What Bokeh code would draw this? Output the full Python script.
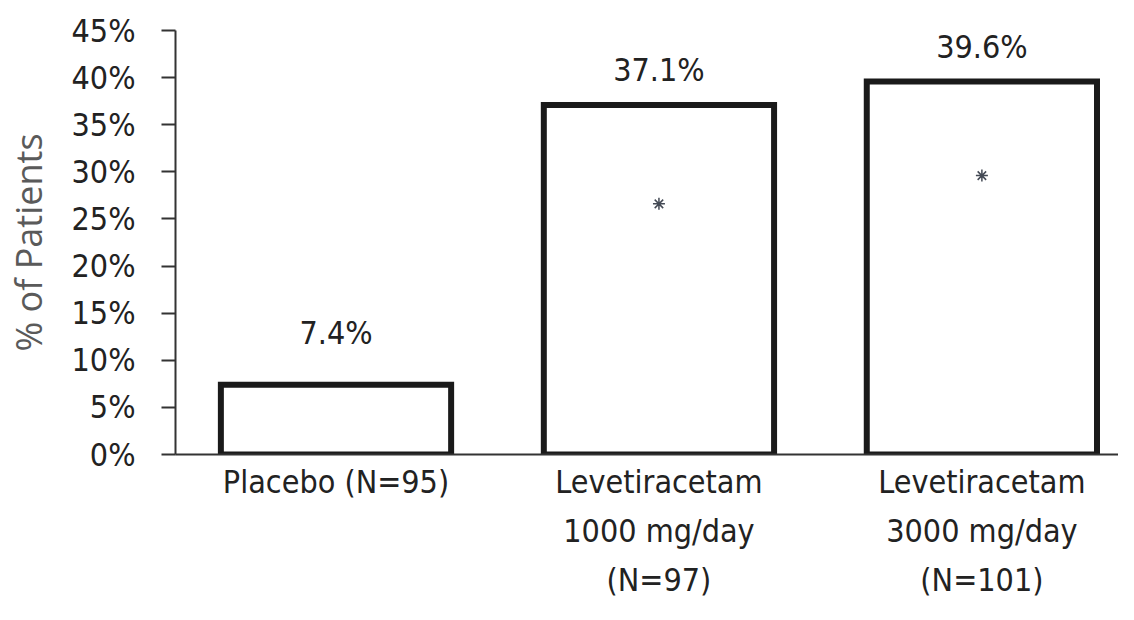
from bokeh.plotting import figure
from bokeh.models import ColumnDataSource, Range1d, FixedTicker, LinearAxis
from bokeh.embed import file_html
from bokeh.resources import INLINE
from bokeh.core.properties import value

# ---- data ----
categories = ["Placebo (N=95)",
              "Levetiracetam\n1000 mg/day\n(N=97)",
              "Levetiracetam\n3000 mg/day\n(N=101)"]
responders = [7.4, 37.1, 39.6]
value_labels = ["7.4%", "37.1%", "39.6%"]
sig_marker_y = [26.6, 29.6]          # asterisk positions for the two active arms
sig_marker_idx = [1, 2]
y_ticks = [0, 5, 10, 15, 20, 25, 30, 35, 40, 45]
y_tick_labels = ["0%", "5%", "10%", "15%", "20%", "25%", "30%", "35%", "40%", "45%"]

FONT = "DejaVu Sans Condensed"
FS = "32px"
xs = list(range(len(categories)))
label_pad = [-52, -35, -34]   # style: pixel gap between bar top and its value label

src = ColumnDataSource(dict(x=xs, top=responders, lab=value_labels, off=label_pad))
sig_src = ColumnDataSource(dict(x=sig_marker_idx, y=sig_marker_y))

p = figure(width=1118, height=604, output_backend="svg", toolbar_location=None,
           x_range=Range1d(-0.497, 2.423), y_range=Range1d(0, 45),
           x_axis_type=None, y_axis_type=None,
           min_border_left=172, min_border_right=0, min_border_top=30, min_border_bottom=150)
p.outline_line_color = None
p.xgrid.visible = False
p.ygrid.visible = False
p.background_fill_color = "white"
p.border_fill_color = "white"

p.vbar(x="x", top="top", bottom=0, width=0.713, source=src,
       fill_color="white", line_color="#1a1a1a", line_width=6, line_join="miter")

p.text(x="x", y="top", text="lab", y_offset="off", source=src,
       text_align="center", text_baseline="alphabetic",
       text_font=value(FONT), text_font_size=FS, text_color="#222222")

p.scatter(x="x", y="y", source=sig_src, marker="asterisk", size=12,
          line_color="#444a55", line_width=1.5)

# y axis
yax = LinearAxis(ticker=FixedTicker(ticks=y_ticks),
                 major_label_overrides={t: l for t, l in zip(y_ticks, y_tick_labels)})
yax.axis_line_width = 2
yax.axis_line_color = "#333333"
yax.major_tick_line_width = 2
yax.major_tick_line_color = "#333333"
yax.major_tick_in = 0
yax.major_tick_out = 14
yax.minor_tick_line_color = None
yax.major_label_standoff = 26
yax.major_label_text_font = FONT
yax.major_label_text_font_size = FS
yax.major_label_text_color = "#222222"
yax.axis_label = "% of Patients"
yax.axis_label_text_font = "Open Sans"
yax.axis_label_text_font_style = "normal"
yax.axis_label_text_font_size = "36px"
yax.axis_label_text_color = "#5a5a5a"
yax.axis_label_standoff = 16
p.add_layout(yax, "left")

# x axis
xax = LinearAxis(ticker=FixedTicker(ticks=xs),
                 major_label_overrides={i: c for i, c in zip(xs, categories)})
xax.axis_line_width = 2
xax.axis_line_color = "#333333"
xax.major_tick_line_color = None
xax.minor_tick_line_color = None
xax.major_tick_out = 0
xax.major_tick_in = 0
xax.major_label_standoff = 8
xax.major_label_text_font = FONT
xax.major_label_text_font_size = FS
xax.major_label_text_color = "#222222"
xax.major_label_text_line_height = 1.3
p.add_layout(xax, "below")

open("out.html", "w").write(file_html(p, INLINE))
